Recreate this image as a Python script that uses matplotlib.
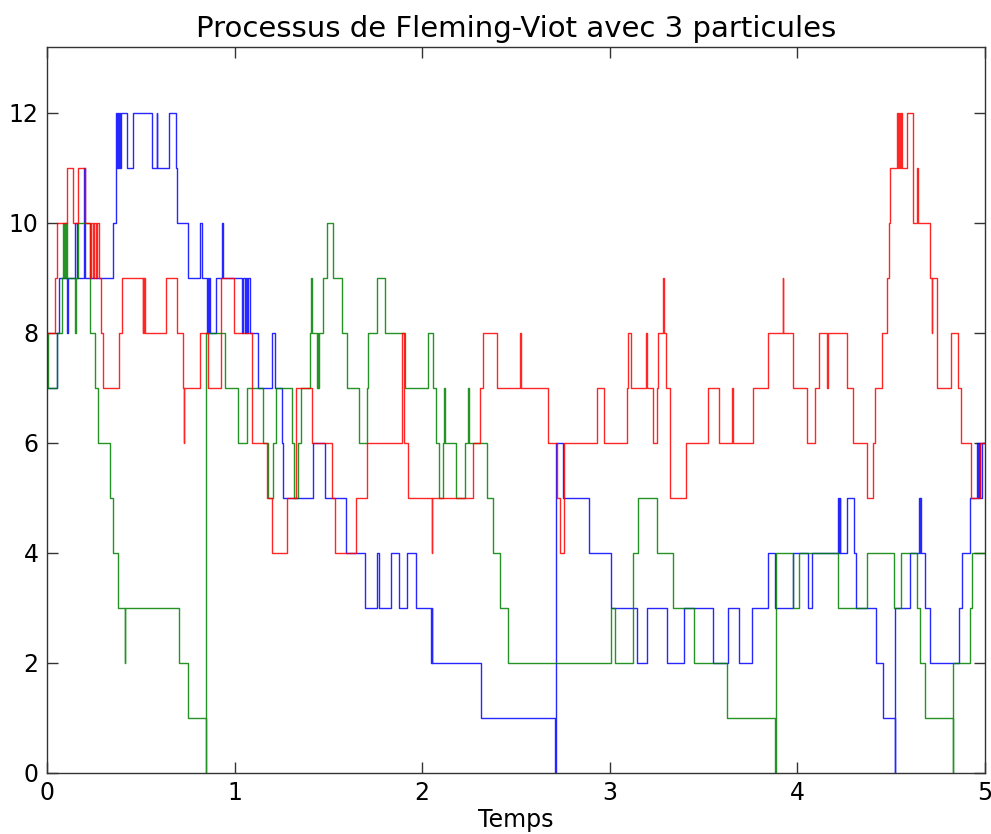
import numpy as np
import matplotlib
matplotlib.use("Agg")
import matplotlib.pyplot as plt

TITLE = "Processus de Fleming-Viot avec 3 particules"
XLABEL = "Temps"
T_END = 5.0

# (jump time, new position), drawn as post-steps
jumps_blue = [
    (0, 7), (0.052, 8), (0.066, 9), (0.105, 8), (0.114, 9), (0.15, 10),
    (0.16, 9), (0.195, 11), (0.203, 9), (0.354, 10), (0.368, 12), (0.372, 11),
    (0.376, 12), (0.380, 11), (0.384, 12), (0.388, 11), (0.392, 12),
    (0.428, 11), (0.457, 12), (0.558, 11), (0.585, 12), (0.588, 11),
    (0.652, 12), (0.688, 11), (0.695, 10), (0.753, 9), (0.816, 10),
    (0.825, 9), (0.851, 8), (0.856, 9), (0.861, 8), (0.866, 9), (0.871, 8),
    (0.90, 9), (0.931, 10), (0.936, 9), (1.041, 8), (1.047, 9), (1.053, 8),
    (1.06, 9), (1.066, 8), (1.072, 9), (1.082, 8), (1.127, 7), (1.198, 8),
    (1.215, 7), (1.251, 6), (1.26, 5), (1.42, 6), (1.482, 5), (1.594, 4),
    (1.695, 3), (1.761, 4), (1.77, 3), (1.832, 4), (1.878, 3), (1.917, 4),
    (1.965, 3), (2.045, 2), (2.05, 3), (2.055, 2), (2.312, 1), (2.708, 0),
    (2.711, 6), (2.752, 5), (2.889, 4), (3.006, 3), (3.147, 2), (3.2, 3),
    (3.303, 2), (3.397, 3), (3.548, 2), (3.632, 3), (3.689, 2), (3.756, 3),
    (3.845, 4), (3.881, 3), (3.978, 4), (4.058, 3), (4.076, 4), (4.218, 5),
    (4.222, 4), (4.225, 5), (4.227, 4), (4.266, 5), (4.302, 4), (4.312, 3),
    (4.419, 2), (4.458, 1), (4.52, 0), (4.523, 3), (4.6, 4), (4.65, 5),
    (4.653, 4), (4.656, 5), (4.659, 4), (4.68, 3), (4.707, 2), (4.863, 3),
    (4.876, 4), (4.92, 5), (4.955, 6), (4.962, 5), (4.968, 6), (4.975, 5),
    (4.985, 6),
]

jumps_green = [
    (0, 8), (0.004, 7), (0.052, 8), (0.078, 9), (0.087, 10), (0.091, 9),
    (0.095, 10), (0.10, 9), (0.104, 10), (0.109, 9), (0.15, 8), (0.154, 9),
    (0.165, 10), (0.229, 9), (0.232, 8), (0.256, 7), (0.274, 6), (0.336, 5),
    (0.35, 4), (0.38, 3), (0.414, 2), (0.418, 3), (0.705, 2), (0.753, 1),
    (0.846, 0), (0.849, 8), (0.949, 7), (1.016, 6), (1.064, 7), (1.153, 6),
    (1.176, 5), (1.206, 6), (1.221, 7), (1.304, 6), (1.317, 5), (1.34, 6),
    (1.352, 7), (1.402, 8), (1.409, 9), (1.411, 8), (1.44, 7), (1.443, 8),
    (1.446, 7), (1.449, 8), (1.473, 9), (1.494, 10), (1.526, 9), (1.571, 8),
    (1.597, 7), (1.665, 6), (1.704, 7), (1.713, 8), (1.761, 9), (1.802, 8),
    (1.908, 7), (2.033, 8), (2.059, 7), (2.072, 6), (2.091, 5), (2.113, 6),
    (2.116, 7), (2.12, 6), (2.18, 5), (2.228, 6), (2.244, 7), (2.248, 6),
    (2.344, 5), (2.376, 4), (2.415, 3), (2.459, 2), (3.006, 3), (3.028, 2),
    (3.122, 4), (3.152, 5), (3.25, 4), (3.335, 3), (3.451, 2), (3.623, 1),
    (3.881, 0), (3.886, 4), (3.978, 3), (4.01, 4), (4.218, 3), (4.373, 4),
    (4.515, 3), (4.551, 4), (4.636, 3), (4.654, 2), (4.68, 1), (4.828, 0),
    (4.831, 2), (4.92, 3), (4.933, 4),
]

jumps_red = [
    (0, 8), (0.043, 9), (0.052, 10), (0.105, 11), (0.14, 10), (0.167, 11),
    (0.203, 10), (0.229, 9), (0.235, 10), (0.245, 9), (0.25, 10), (0.26, 9),
    (0.265, 10), (0.275, 9), (0.288, 8), (0.30, 7), (0.386, 8), (0.398, 9),
    (0.51, 8), (0.513, 9), (0.516, 8), (0.519, 9), (0.522, 8), (0.634, 9),
    (0.691, 8), (0.723, 7), (0.728, 6), (0.733, 7), (0.815, 8), (0.86, 7),
    (0.928, 9), (0.999, 8), (1.091, 7), (1.095, 6), (1.171, 5), (1.198, 4),
    (1.281, 5), (1.327, 7), (1.411, 6), (1.518, 5), (1.535, 4), (1.647, 5),
    (1.704, 6), (1.891, 8), (1.905, 6), (1.926, 5), (2.051, 4), (2.054, 5),
    (2.273, 6), (2.308, 7), (2.323, 8), (2.401, 7), (2.522, 8), (2.528, 7),
    (2.672, 6), (2.717, 5), (2.735, 4), (2.756, 6), (2.93, 7), (2.969, 6),
    (3.09, 7), (3.099, 8), (3.111, 7), (3.195, 8), (3.20, 7), (3.232, 6),
    (3.25, 7), (3.259, 8), (3.285, 9), (3.287, 8), (3.298, 7), (3.321, 6),
    (3.323, 5), (3.406, 6), (3.525, 7), (3.582, 6), (3.653, 7), (3.655, 6),
    (3.762, 7), (3.845, 8), (3.921, 9), (3.924, 8), (3.978, 7), (4.049, 6),
    (4.094, 7), (4.115, 8), (4.156, 7), (4.165, 8), (4.266, 7), (4.298, 6),
    (4.373, 5), (4.405, 6), (4.414, 7), (4.453, 8), (4.478, 9), (4.487, 10),
    (4.495, 11), (4.533, 12), (4.538, 11), (4.542, 12), (4.546, 11),
    (4.550, 12), (4.559, 11), (4.583, 12), (4.615, 10), (4.636, 11),
    (4.645, 10), (4.707, 9), (4.716, 8), (4.72, 9), (4.742, 7), (4.819, 8),
    (4.858, 7), (4.872, 6), (4.925, 5), (4.975, 6),
]


def as_steps(jumps):
    t = [p[0] for p in jumps] + [T_END]
    y = [p[1] for p in jumps] + [jumps[-1][1]]
    return np.array(t), np.array(y)


fig = plt.figure(figsize=(9.91, 8.34), dpi=100)
ax = fig.add_axes([0.0474, 0.0735, 0.9465, 0.8705])

for jumps, c in [(jumps_blue, "b"), (jumps_green, "g"), (jumps_red, "r")]:
    tt, yy = as_steps(jumps)
    ax.step(tt, yy, where="post", color=c, lw=1.0, alpha=0.85)

ax.set_xlim(0, 5)
ax.set_ylim(0, 13.2)
ax.set_xticks([0, 1, 2, 3, 4, 5])
ax.set_yticks([0, 2, 4, 6, 8, 10, 12])
ax.tick_params(direction="in", length=8, width=1, top=True, right=True,
               labelsize=17, pad=6, color="#333333")
for s in ax.spines.values():
    s.set_color("#333333")
    s.set_linewidth(1.0)
ax.set_title(TITLE, fontsize=21, pad=7)
ax.set_xlabel(XLABEL, fontsize=17, labelpad=2)

fig.savefig("out.png", dpi=100)
